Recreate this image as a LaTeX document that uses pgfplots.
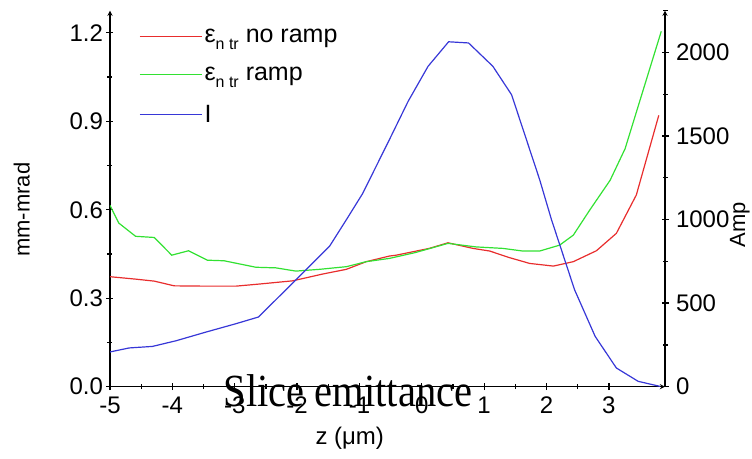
\documentclass[border=0pt]{standalone}
\usepackage{fontspec}
\setmainfont{Liberation Sans}
\newfontfamily\titlefont{Liberation Serif}
\usepackage{graphicx}
\usepackage{pgfplots}
\pgfplotsset{compat=1.18}
\definecolor{cred}{RGB}{232,45,45}
\definecolor{cgreen}{RGB}{50,225,50}
\definecolor{cblue}{RGB}{55,55,215}
\pgfplotsset{
  common/.style={
    scale only axis, width=555bp, height=376bp,
    at={(0,0)}, anchor=south west,
    xmin=-5, xmax=3.9,
    tick align=outside,
    major tick length=7bp, minor tick length=5bp,
    axis line style={line width=1.3bp, -},
    every tick/.style={black, line width=1.3bp},
    /pgf/number format/assume math mode=true,
    tick label style={font=\fontsize{24bp}{28bp}\selectfont},
  }
}
\begin{document}
\begin{tikzpicture}
\path[use as bounding box] (-110bp,-72bp) rectangle (642bp,386.7bp);
\begin{axis}[common,
  axis x line=bottom, axis y line=left,
  ymin=0, ymax=1.275,
  xtick={-5,-4,-3,-2,-1,0,1,2,3}, minor x tick num=1,
  ytick={0,0.3,0.6,0.9,1.2},
  minor ytick={0.15,0.45,0.75,1.05},
  yticklabel style={/pgf/number format/.cd, fixed, fixed zerofill, precision=1},
  xticklabel style={yshift=-3bp},
  xlabel={z (μm)}, xlabel style={font=\fontsize{24bp}{28bp}\selectfont, at={(axis description cs:0.432,-0.136)}, anchor=center},
  ylabel={mm-mrad}, ylabel style={font=\fontsize{22bp}{26bp}\selectfont, at={(axis description cs:-0.159,0.471)}, anchor=center},
]
\addplot[cred, line width=1.2bp] coordinates {
(-5.00,0.373) (-4.60,0.365) (-4.29,0.358) (-3.97,0.342) (-3.50,0.341)
(-2.98,0.341) (-2.61,0.348) (-2.07,0.359) (-1.59,0.382) (-1.21,0.398)
(-0.89,0.424) (-0.52,0.443) (-0.41,0.446) (0.12,0.469) (0.42,0.488)
(0.82,0.469) (1.09,0.460) (1.40,0.438) (1.73,0.418) (2.11,0.409)
(2.43,0.424) (2.80,0.461) (3.12,0.520) (3.44,0.650) (3.80,0.920)
};
\addplot[cgreen, line width=1.2bp] coordinates {
(-5.00,0.615) (-4.86,0.555) (-4.59,0.510) (-4.29,0.506) (-4.01,0.446)
(-3.74,0.461) (-3.44,0.429) (-3.17,0.427) (-2.66,0.405) (-2.34,0.403)
(-2.02,0.392) (-1.64,0.398) (-1.21,0.407) (-0.89,0.424) (-0.52,0.435)
(-0.10,0.455) (0.42,0.486) (0.87,0.474) (1.30,0.469) (1.62,0.460)
(1.89,0.460) (2.21,0.480) (2.43,0.514) (2.69,0.598) (3.02,0.700)
(3.26,0.807) (3.84,1.205)
};
\end{axis}
\begin{axis}[common,
  axis x line=none, axis y line=right,
  ymin=0, ymax=2250,
  ytick={0,500,1000,1500,2000},
  minor ytick={250,750,1250,1750,2250},
  yticklabel style={/pgf/number format/1000 sep={}, xshift=4bp},
  ylabel={Amp}, ylabel style={font=\fontsize{22bp}{26bp}\selectfont, at={(axis description cs:1.135,0.431)}, anchor=center},
  legend style={draw=none, fill=none, at={(axis description cs:0.047,0.962)}, anchor=north west,
    font=\fontsize{25bp}{29bp}\selectfont, row sep=19bp},
  legend cell align=left,
  legend image code/.code={\draw[#1] (0bp,0bp) -- (58bp,0bp); \path (0bp,0bp) -- (62bp,0bp);},
]
\addlegendimage{cred, line width=1.3bp}
\addlegendentry{ε\raisebox{-7bp}{\fontsize{16bp}{16bp}\selectfont n tr} no ramp}
\addlegendimage{cgreen, line width=1.3bp}
\addlegendentry{ε\raisebox{-7bp}{\fontsize{16bp}{16bp}\selectfont n tr} ramp}
\addplot[cblue, line width=1.2bp] coordinates {
(-5.00,208) (-4.69,232) (-4.32,241) (-3.94,275) (-3.46,327) (-2.98,377)
(-2.62,417) (-2.23,561) (-1.91,680) (-1.48,840) (-1.21,999) (-0.95,1155)
(-0.52,1478) (-0.22,1707) (0.10,1917) (0.43,2064) (0.75,2057) (1.14,1917)
(1.44,1747) (1.89,1239) (2.08,999) (2.45,580) (2.78,301) (3.12,112)
(3.47,32) (3.82,2)
};
\addlegendentry{I}
\end{axis}
\node[anchor=base, inner sep=0pt] at (238bp,-20bp) {\titlefont\fontsize{46bp}{46bp}\selectfont\scalebox{0.88}[1]{Slice emittance}};
\end{tikzpicture}
\end{document}
